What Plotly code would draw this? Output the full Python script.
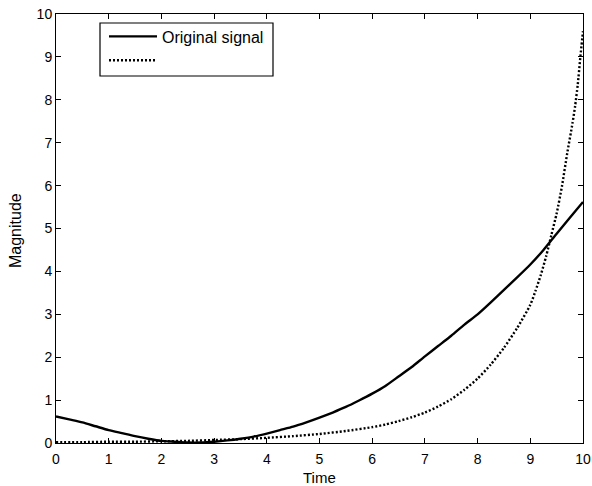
import plotly.graph_objects as go

# Original signal (solid)
x_orig = [0, 0.25, 0.5, 0.75, 1.0, 1.25, 1.5, 1.75, 2.0, 2.25, 2.5, 2.75, 3.0, 3.25, 3.5,
          3.75, 4.0, 4.25, 4.5, 4.75, 5.0, 5.25, 5.5, 5.75, 6.0, 6.25, 6.5, 6.75, 7.0,
          7.25, 7.5, 7.75, 8.0, 8.25, 8.5, 8.75, 9.0, 9.25, 9.5, 9.75, 10.0]
y_orig = [0.62, 0.55, 0.48, 0.39, 0.30, 0.23, 0.16, 0.10, 0.05, 0.03, 0.01, 0.01, 0.03,
          0.06, 0.10, 0.15, 0.22, 0.30, 0.38, 0.48, 0.59, 0.71, 0.84, 0.99, 1.15, 1.33,
          1.55, 1.77, 2.02, 2.26, 2.50, 2.76, 3.00, 3.28, 3.57, 3.86, 4.16, 4.50, 4.88,
          5.25, 5.62]

# Second signal (dotted, unnamed)
x_dot = [0, 0.5, 1.0, 1.5, 2.0, 2.5, 3.0, 3.5, 4.0, 4.5, 5.0, 5.5, 6.0, 6.25, 6.5, 6.75,
         7.0, 7.25, 7.5, 7.75, 8.0, 8.25, 8.5, 8.75, 9.0, 9.1, 9.2, 9.3, 9.4, 9.5, 9.6,
         9.7, 9.8, 9.85, 9.9, 9.95, 10.0]
y_dot = [0.02, 0.02, 0.03, 0.03, 0.04, 0.05, 0.07, 0.09, 0.12, 0.16, 0.21, 0.28, 0.37,
         0.43, 0.51, 0.60, 0.71, 0.85, 1.02, 1.24, 1.50, 1.83, 2.22, 2.68, 3.22, 3.55,
         3.92, 4.35, 4.85, 5.35, 5.98, 6.75, 7.45, 7.85, 8.35, 9.00, 9.60]

x_ticks = [0, 1, 2, 3, 4, 5, 6, 7, 8, 9, 10]
y_ticks = [0, 1, 2, 3, 4, 5, 6, 7, 8, 9, 10]

FONT = "Liberation Sans, Arial, sans-serif"

L, R, T, B = 56, 9, 14, 43
W, H = 592, 486
PW, PH = W - L - R, H - T - B


def px_x(p):
    return (p - L) / PW


def px_y(p):
    return (H - B - p) / PH


fig = go.Figure()
fig.add_trace(go.Scatter(x=x_orig, y=y_orig, mode="lines", name="Original signal",
                         line=dict(color="black", width=2.4, shape="spline", smoothing=0.6)))
fig.add_trace(go.Scatter(x=x_dot, y=y_dot, mode="lines", name=" ",
                         line=dict(color="black", width=2.4, dash="2px,2px",
                                   shape="spline", smoothing=0.6)))

axis_common = dict(showline=True, linecolor="black", linewidth=1, mirror="ticks",
                   ticks="inside", ticklen=5, tickcolor="black", showgrid=False,
                   zeroline=False, automargin=False,
                   tickfont=dict(family=FONT, size=14, color="black"))

fig.update_layout(
    width=W, height=H,
    margin=dict(l=L, r=R, t=T, b=B),
    paper_bgcolor="white", plot_bgcolor="white",
    font=dict(family=FONT, size=14, color="black"),
    xaxis=dict(range=[0, 10], tickvals=x_ticks, ticklabelstandoff=3, **axis_common),
    yaxis=dict(range=[0, 10], tickvals=y_ticks, **axis_common),
    legend=dict(x=px_x(104), y=px_y(19.5), xanchor="left", yanchor="top",
                borderwidth=0, bgcolor="rgba(0,0,0,0)",
                font=dict(family=FONT, size=16), tracegroupgap=0,
                itemwidth=48),
    showlegend=True,
    shapes=[dict(type="rect", xref="paper", yref="paper",
                 x0=px_x(100), x1=px_x(273), y0=px_y(76), y1=px_y(23),
                 line=dict(color="black", width=1.2), fillcolor="white", layer="below")],
    annotations=[
        dict(text="Time", xref="paper", yref="paper", x=0.5, y=px_y(477),
             xanchor="center", yanchor="middle", showarrow=False,
             font=dict(family=FONT, size=15)),
        dict(text="Magnitude", xref="paper", yref="paper", x=px_x(15), y=px_y(231),
             xanchor="center", yanchor="middle", showarrow=False, textangle=-90,
             font=dict(family=FONT, size=16)),
    ],
)

fig.write_html("out.html")
